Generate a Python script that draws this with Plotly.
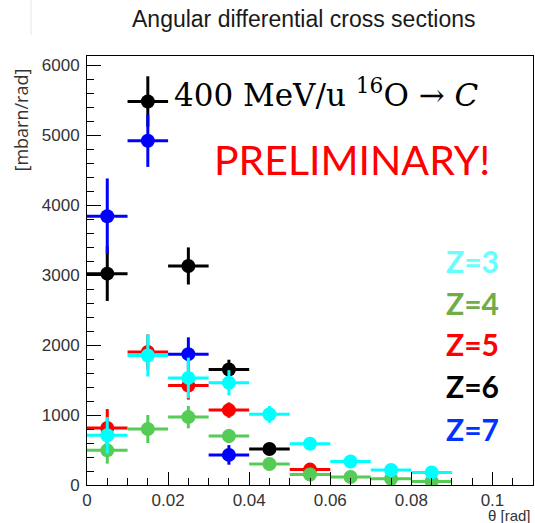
import plotly.graph_objects as go

# ---- data ----
theta = [0.005, 0.015, 0.025, 0.035, 0.045, 0.055, 0.065, 0.075, 0.085]
bin_half = 0.005

z6_x = [0.005, 0.015, 0.025, 0.035, 0.045]
z6_y = [3020, 5480, 3130, 1650, 515]
z6_e = [390, 360, 265, 140, 50]

z7_x = [0.005, 0.015, 0.025, 0.035]
z7_y = [3840, 4920, 1870, 430]
z7_e = [540, 375, 240, 140]

z5_x = [0.005, 0.015, 0.025, 0.035, 0.055]
z5_y = [815, 1900, 1420, 1070, 220]
z5_e = [270, 250, 200, 110, 30]

z4_x = theta
z4_y = [495, 800, 970, 700, 300, 150, 115, 90, 50]
z4_e = [190, 200, 160, 100, 60, 30, 20, 20, 15]

z3_x = theta
z3_y = [710, 1850, 1530, 1460, 1010, 590, 335, 215, 180]
z3_e = [260, 300, 290, 180, 120, 50, 40, 30, 30]

x_tickvals = [0, 0.02, 0.04, 0.06, 0.08, 0.1]
x_ticktext = ["0", "0.02", "0.04", "0.06", "0.08", "0.1"]
y_tickvals = [0, 1000, 2000, 3000, 4000, 5000, 6000]

series = [
    ("Z=6", z6_x, z6_y, z6_e, "#000000"),
    ("Z=7", z7_x, z7_y, z7_e, "#0000FF"),
    ("Z=5", z5_x, z5_y, z5_e, "#FF0000"),
    ("Z=4", z4_x, z4_y, z4_e, "#55CC55"),
    ("Z=3", z3_x, z3_y, z3_e, "#00FFFF"),
]

W, H = 535, 523
L, R, T, B = 87, 2, 56, 38
PW, PH = W - L - R, H - T - B


def px(xp):
    return (xp - L) / PW


def py(yp):
    return (H - B - yp) / PH


fig = go.Figure()
for name, xs, ys, es, col in series:
    fig.add_trace(go.Scatter(
        x=xs, y=ys, mode="markers", name=name,
        marker=dict(color=col, size=14, symbol="circle"),
        error_y=dict(type="data", array=es, color=col, thickness=3, width=0),
        error_x=dict(type="constant", value=bin_half, color=col, thickness=3, width=0),
        showlegend=False,
    ))

axis_font = dict(family="Liberation Sans, Arial, sans-serif", size=17, color="#333")

fig.update_layout(
    width=W, height=H,
    margin=dict(l=L, r=R, t=T, b=B, pad=0),
    paper_bgcolor="white", plot_bgcolor="white",
    xaxis=dict(range=[0, 0.11], tickvals=x_tickvals, ticktext=x_ticktext,
               ticks="inside", ticklen=13, tickwidth=1, tickcolor="black",
               minor=dict(dtick=0.005, tick0=0, ticks="inside", ticklen=7, tickcolor="black"),
               showline=True, linecolor="black", linewidth=1, mirror=True,
               showgrid=False, zeroline=False, tickfont=axis_font, ticklabelstandoff=0),
    yaxis=dict(range=[0, 6130], tickvals=y_tickvals,
               ticks="inside", ticklen=14, tickwidth=1, tickcolor="black",
               minor=dict(dtick=200, tick0=0, ticks="inside", ticklen=7, tickcolor="black"),
               showline=True, linecolor="black", linewidth=1, mirror=True,
               showgrid=False, zeroline=False, tickfont=axis_font, ticklabelstandoff=3),
)

ann = []
ann.append(dict(text="Angular differential cross sections", xref="paper", yref="paper",
                x=px(303), y=py(19), xanchor="center", yanchor="middle", showarrow=False,
                font=dict(family="Liberation Sans, Arial, sans-serif", size=23, color="#1a1a1a")))
ann.append(dict(text="[mbarn/rad]", xref="paper", yref="paper", textangle=-90,
                x=px(20), y=py(67), xanchor="center", yanchor="top", showarrow=False,
                font=dict(family="Open Sans, sans-serif", size=18, color="#333")))
ann.append(dict(text="θ [rad]", xref="paper", yref="paper",
                x=px(533), y=py(515), xanchor="right", yanchor="middle", showarrow=False,
                font=dict(family="Liberation Sans, Arial, sans-serif", size=15, color="#333")))
ann.append(dict(text="400 MeV/u <sup>16</sup>O → <i>C</i>", xref="paper", yref="paper",
                x=px(172), y=py(93), xanchor="left", yanchor="middle", showarrow=False,
                font=dict(family="DejaVu Serif, serif", size=31, color="black")))
ann.append(dict(text="PRELIMINARY!", xref="paper", yref="paper",
                x=px(212), y=py(159), xanchor="left", yanchor="middle", showarrow=False,
                font=dict(family="Lato, Open Sans, sans-serif", size=41, color="#FF0000")))

labels = [("Z=3", "#66FFFF", 261), ("Z=4", "#70AD47", 303), ("Z=5", "#FF0000", 344),
          ("Z=6", "#000000", 386), ("Z=7", "#0033FF", 429)]
for txt, col, yy in labels:
    ann.append(dict(text="<b>%s</b>" % txt, xref="paper", yref="paper",
                    x=px(501), y=py(yy), xanchor="right", yanchor="middle", showarrow=False,
                    font=dict(family="Lato, Open Sans, sans-serif", size=30, color=col)))
fig.update_layout(annotations=ann)

fig.add_shape(type="line", xref="paper", yref="paper", x0=px(31), x1=px(31), y0=py(0), y1=py(35),
              line=dict(color="#e6e6e6", width=1))

fig.write_html("out.html")
